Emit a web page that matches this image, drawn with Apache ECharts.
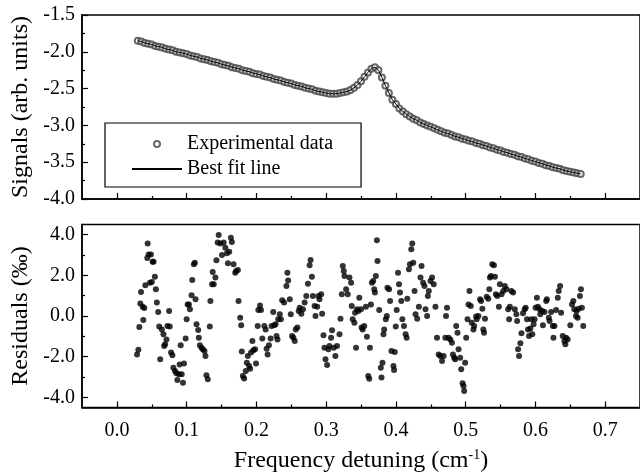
<!DOCTYPE html>
<html><head><meta charset="utf-8">
<script src="https://cdn.jsdelivr.net/npm/echarts@6/dist/echarts.min.js"></script>
<style>html,body{margin:0;padding:0;background:#fff}#c{width:640px;height:476px}</style>
</head><body><div id="c"></div>
<script>
// ---- Data ----
const sigX = [0.030,0.035,0.040,0.045,0.050,0.055,0.060,0.065,0.070,0.075,
0.080,0.085,0.090,0.095,0.100,0.105,0.110,0.115,0.120,0.125,
0.130,0.135,0.140,0.145,0.150,0.155,0.160,0.165,0.170,0.175,
0.180,0.185,0.190,0.195,0.200,0.205,0.210,0.215,0.220,0.225,
0.230,0.235,0.240,0.245,0.250,0.255,0.260,0.265,0.270,0.275,
0.280,0.285,0.290,0.295,0.300,0.305,0.310,0.315,0.320,0.325,
0.330,0.335,0.340,0.345,0.350,0.355,0.360,0.365,0.370,0.375,
0.380,0.385,0.390,0.395,0.400,0.405,0.410,0.415,0.420,0.425,
0.430,0.435,0.440,0.445,0.450,0.455,0.460,0.465,0.470,0.475,
0.480,0.485,0.490,0.495,0.500,0.505,0.510,0.515,0.520,0.525,
0.530,0.535,0.540,0.545,0.550,0.555,0.560,0.565,0.570,0.575,
0.580,0.585,0.590,0.595,0.600,0.605,0.610,0.615,0.620,0.625,
0.630,0.635,0.640,0.645,0.650,0.655,0.660,0.665];
const sigY = [-1.85,-1.86,-1.88,-1.89,-1.90,-1.92,-1.93,-1.94,-1.96,-1.97,
-1.98,-2.00,-2.01,-2.02,-2.03,-2.05,-2.06,-2.07,-2.09,-2.10,
-2.11,-2.13,-2.14,-2.15,-2.17,-2.18,-2.19,-2.21,-2.22,-2.23,
-2.25,-2.26,-2.27,-2.29,-2.30,-2.31,-2.33,-2.34,-2.35,-2.37,
-2.38,-2.39,-2.41,-2.42,-2.43,-2.45,-2.46,-2.47,-2.49,-2.50,
-2.51,-2.53,-2.54,-2.55,-2.56,-2.57,-2.57,-2.57,-2.56,-2.55,
-2.54,-2.52,-2.49,-2.45,-2.40,-2.34,-2.28,-2.23,-2.21,-2.25,
-2.35,-2.46,-2.56,-2.65,-2.71,-2.77,-2.81,-2.85,-2.88,-2.91,
-2.93,-2.96,-2.98,-3.00,-3.02,-3.04,-3.06,-3.08,-3.10,-3.11,
-3.13,-3.15,-3.16,-3.18,-3.19,-3.21,-3.22,-3.24,-3.25,-3.27,
-3.28,-3.30,-3.31,-3.33,-3.34,-3.36,-3.37,-3.39,-3.40,-3.42,
-3.43,-3.45,-3.46,-3.48,-3.49,-3.51,-3.52,-3.54,-3.55,-3.57,
-3.58,-3.59,-3.61,-3.62,-3.63,-3.64,-3.65,-3.66];

const resX = [0.0289,0.0308,0.0322,0.0336,0.0346,0.0370,0.0379,0.0393,0.0408,0.0436,
0.0441,0.0455,0.0474,0.0488,0.0502,0.0512,0.0526,0.0545,0.0559,0.0573,
0.0592,0.0607,0.0621,0.0645,0.0668,0.0678,0.0692,0.0711,0.0725,0.0749,
0.0758,0.0777,0.0796,0.0810,0.0834,0.0853,0.0867,0.0891,0.0900,0.0915,
0.0929,0.0948,0.0962,0.0986,0.1000,0.1014,0.1033,0.1047,0.1071,0.1081,
0.1104,0.1118,0.1128,0.1142,0.1166,0.1175,0.1190,0.1213,0.1232,0.1256,
0.1270,0.1284,0.1303,0.1332,0.1341,0.1365,0.1374,0.1389,0.1412,0.1427,
0.1445,0.1460,0.1483,0.1507,0.1531,0.1555,0.1578,0.1592,0.1611,0.1635,
0.1649,0.1673,0.1697,0.1711,0.1735,0.1744,0.1768,0.1782,0.1791,0.1806,
0.1825,0.1848,0.1863,0.1877,0.1896,0.1910,0.1924,0.1943,0.1957,0.1981,
0.1995,0.2019,0.2028,0.2052,0.2066,0.2085,0.2114,0.2133,0.2147,0.2161,
0.2180,0.2204,0.2218,0.2242,0.2256,0.2275,0.2289,0.2303,0.2313,0.2336,
0.2351,0.2370,0.2398,0.2431,0.2445,0.2455,0.2479,0.2493,0.2512,0.2531,
0.2550,0.2564,0.2588,0.2607,0.2621,0.2645,0.2668,0.2692,0.2716,0.2739,
0.2763,0.2777,0.2796,0.2810,0.2834,0.2848,0.2872,0.2891,0.2905,0.2929,
0.2943,0.2962,0.2976,0.2991,0.3014,0.3033,0.3047,0.3071,0.3085,0.3109,
0.3133,0.3156,
0.3192,0.3206,0.3225,0.3239,0.3253,0.3263,0.3287,0.3310,0.3334,0.3358,
0.3367,0.3381,0.3405,0.3415,0.3429,0.3443,0.3462,0.3476,0.3500,0.3509,
0.3524,0.3547,0.3571,0.3585,0.3604,0.3618,0.3628,0.3642,0.3656,0.3675,
0.3690,0.3699,0.3713,0.3728,0.3737,0.3761,0.3784,0.3794,0.3808,0.3822,
0.3832,0.3856,0.3870,0.3879,0.3903,0.3917,0.3936,0.3965,0.3974,0.3984,
0.3998,0.4012,0.4031,0.4045,0.4059,0.4078,0.4093,0.4116,0.4140,0.4154,
0.4164,0.4187,0.4202,0.4221,0.4235,0.4249,0.4268,0.4282,0.4306,0.4330,
0.4353,0.4368,0.4391,0.4410,0.4425,0.4448,0.4458,0.4472,0.4496,0.4519,
0.4543,0.4567,0.4590,0.4614,0.4638,0.4662,0.4685,0.4709,0.4719,0.4733,
0.4756,0.4780,0.4804,0.4818,0.4837,0.4851,0.4865,0.4884,0.4899,0.4922,
0.4937,0.4956,0.4970,0.4979,0.4993,0.5008,0.5027,0.5041,0.5055,0.5074,
0.5088,0.5112,0.5122,0.5150,0.5159,0.5183,0.5207,0.5221,0.5240,0.5254,
0.5264,0.5278,0.5302,0.5325,0.5340,0.5349,0.5363,0.5382,0.5406,0.5420,
0.5434,0.5453,0.5477,0.5491,0.5515,0.5539,0.5562,0.5586,0.5610,0.5624,
0.5634,0.5657,0.5681,0.5705,0.5728,0.5738,0.5752,0.5766,0.5785,0.5800,
0.5823,0.5847,0.5861,0.5880,0.5894,0.5909,0.5928,0.5942,0.5956,0.5975,
0.5989,0.6003,0.6022,0.6037,0.6060,0.6070,0.6098,0.6108,0.6131,0.6155,
0.6165,0.6193,0.6203,0.6226,0.6250,0.6259,0.6274,0.6297,0.6321,0.6335,
0.6354,0.6369,0.6392,0.6416,0.6430,0.6440,0.6463,0.6501,0.6525,0.6544,
0.6558,0.6582,0.6591,0.6606,0.6620,0.6639,0.6653,0.6667,0.6686];
const resY = [-1.89,-1.66,-0.54,0.61,1.18,0.46,-0.20,0.39,1.51,2.85,
3.56,3.03,1.64,3.03,1.67,2.67,2.67,1.93,1.31,0.66,
0.20,-0.52,-2.13,-0.66,-0.90,-1.48,-1.39,-1.15,-0.49,0.25,
-0.52,-1.80,-1.93,-2.54,-2.70,-2.82,-3.15,-2.87,-2.38,-1.44,
-2.87,-3.28,-2.33,-1.11,-0.16,0.57,0.56,0.33,1.02,1.77,
2.54,2.62,0.82,-0.41,-0.69,-1.07,-1.44,-1.56,-1.64,-1.72,
-1.97,-2.92,-3.11,-0.52,0.74,1.56,2.16,1.56,1.89,2.74,
3.61,3.98,3.57,3.00,3.61,3.36,3.08,2.59,3.16,3.85,
3.64,2.54,2.13,2.21,2.26,0.74,-0.08,-0.46,-1.75,-2.95,
-3.07,-2.70,-2.30,-1.97,-2.46,-2.59,-1.80,-1.23,-1.69,-1.64,
-2.33,-0.49,0.30,0.52,0.30,-1.11,-0.49,-0.66,-1.61,-1.89,
-1.44,-1.11,-0.49,0.20,-0.46,-0.41,-0.98,-1.15,-0.16,0.08,
-0.16,0.77,0.66,1.48,2.13,1.75,0.82,0.08,-0.98,-1.07,
-1.23,-0.66,-0.57,0.25,0.41,0.11,0.33,0.66,0.98,1.59,
2.49,2.75,1.93,0.98,0.49,0.00,0.46,0.98,0.82,1.07,
0.11,-0.95,-1.56,-2.13,-2.41,-1.64,-1.48,-1.07,-0.70,-1.56,
-1.97,-1.48,
-0.90,-0.13,1.07,2.46,2.21,1.97,1.31,1.07,1.89,1.64,
0.49,-0.16,-0.33,0.16,-1.56,0.33,0.25,0.90,0.33,-0.57,
-0.66,-0.49,0.46,-1.02,-2.95,-3.08,-1.56,0.57,1.64,1.72,
1.31,1.15,1.97,3.72,2.70,0.30,-2.54,-3.03,-2.30,-0.90,
-0.66,-0.16,0.00,1.39,1.31,0.74,-1.72,-2.46,-2.66,-1.77,
-0.52,0.30,2.13,1.56,1.15,0.74,-0.16,-0.49,-0.90,-1.07,
0.85,2.30,2.54,3.28,3.56,2.62,1.23,0.08,-0.13,0.46,
1.89,2.46,1.64,1.48,0.33,0.00,0.98,1.23,1.72,1.89,
1.56,0.46,-1.07,-1.89,-1.97,-2.21,-1.97,-1.07,0.00,0.41,
-1.07,-1.15,-1.31,-1.89,-2.05,-2.13,-0.49,-0.82,-1.64,-2.05,
-2.62,-3.31,-3.44,-3.69,-2.30,-1.07,-0.16,0.57,1.23,0.49,
-0.33,-0.66,-0.49,-0.03,-0.16,0.00,0.82,0.74,0.36,-0.66,
-0.82,-0.13,0.95,0.85,1.31,1.89,1.97,2.54,2.49,1.93,
1.07,0.98,0.46,1.56,1.07,1.23,1.48,1.31,0.33,-0.16,
0.46,1.23,1.15,0.33,0.08,-0.25,-1.64,-1.97,-1.34,-0.85,
0.13,0.33,0.41,-0.16,-0.66,-0.98,-0.62,-0.16,-0.90,-0.41,
-0.16,0.41,0.90,0.46,0.33,0.08,0.25,-0.46,0.20,0.74,
0.82,-0.08,-0.25,0.20,-0.49,-1.07,-0.49,0.30,0.90,1.23,
1.48,0.16,-0.98,-1.23,-1.39,-1.07,-1.15,-0.46,0.57,0.74,
0.33,0.00,0.25,-0.08,0.36,0.98,1.31,0.41,-0.49];

const xMajorTicks = [0.0,0.1,0.2,0.3,0.4,0.5,0.6,0.7];
const xMinorTicks = [0.05,0.15,0.25,0.35,0.45,0.55,0.65];
const resMajorTicks = [-4,-2,0,2,4];
const resMinorTicks = [-3,-1,1,3];

// ---- Chart ----
const FONT = '"Liberation Serif","Times New Roman",serif';
const BLACK = '#000';
const lineStyle = {color: BLACK, width: 1.5};
const labelStyle = {fontFamily: FONT, fontSize: 20, color: BLACK};
const nameStyle = {fontFamily: FONT, fontSize: 24, color: BLACK};

function majorX(grid, labels) {
  return {
    type: 'value', gridIndex: grid, position: 'bottom', min: -0.05, max: 0.75,
    axisLine: {show: true, onZero: false, lineStyle},
    axisTick: {show: true, inside: true, length: 6, customValues: xMajorTicks, lineStyle: {color: BLACK, width: 1.2}},
    axisLabel: labels ? Object.assign({show: true, margin: 13, customValues: xMajorTicks,
      formatter: v => v.toFixed(1)}, labelStyle) : {show: false},
    splitLine: {show: false}
  };
}
function minorX(grid) {
  return {
    type: 'value', gridIndex: grid, position: 'bottom', min: -0.05, max: 0.75,
    axisLine: {show: false, onZero: false},
    axisTick: {show: true, inside: true, length: 3, customValues: xMinorTicks, lineStyle: {color: BLACK, width: 1.2}},
    axisLabel: {show: false}, splitLine: {show: false}
  };
}

const xa2 = majorX(1, true);
xa2.name = 'Frequency detuning (cm{sup|-1})';
xa2.nameLocation = 'middle';
xa2.nameGap = 41;
xa2.nameTextStyle = Object.assign({}, nameStyle, {rich: {sup: {fontFamily: FONT, fontSize: 14, color: BLACK, verticalAlign: 'top', padding: [0, 0, 11, 0]}}});

const option = {
  animation: false,
  backgroundColor: '#fff',
  grid: [
    {left: 82, top: 15, right: -4, height: 184, show: true, borderColor: BLACK, borderWidth: 1.5, backgroundColor: 'transparent'},
    {left: 82, top: 224.5, right: -4, height: 183, show: true, borderColor: BLACK, borderWidth: 1.5, backgroundColor: 'transparent'}
  ],
  legend: {
    show: true, left: 105, top: 123, orient: 'vertical',
    padding: [11, 28, 8, 26], itemGap: 5, itemWidth: 50, itemHeight: 6,
    borderColor: BLACK, borderWidth: 1.2, backgroundColor: '#fff',
    textStyle: {fontFamily: FONT, fontSize: 20, color: BLACK},
    data: [
      {name: 'Experimental data', icon: 'emptyCircle'},
      {name: 'Best fit line', itemStyle: {opacity: 0}}
    ]
  },
  xAxis: [majorX(0, false), minorX(0), xa2, minorX(1)],
  yAxis: [
    {type: 'value', gridIndex: 0, position: 'left', min: -4, max: -1.5, interval: 0.5,
     axisLine: {show: true, onZero: false, lineStyle},
     axisTick: {show: true, inside: true, length: 6, lineStyle: {color: BLACK, width: 1.2}},
     minorTick: {show: true, splitNumber: 2, length: 3, lineStyle: {color: BLACK, width: 1.2}},
     axisLabel: Object.assign({margin: 7, formatter: v => v.toFixed(1)}, labelStyle),
     splitLine: {show: false},
     name: 'Signals (arb. units)', nameLocation: 'middle', nameGap: 48, nameTextStyle: nameStyle},
    {type: 'value', gridIndex: 1, position: 'left', min: -4.5, max: 4.5,
     axisLine: {show: true, onZero: false, lineStyle},
     axisTick: {show: true, inside: true, length: 6, customValues: resMajorTicks, lineStyle: {color: BLACK, width: 1.2}},
     axisLabel: Object.assign({margin: 7, customValues: resMajorTicks, formatter: v => v.toFixed(1)}, labelStyle),
     splitLine: {show: false},
     name: 'Residuals (\u2030)', nameLocation: 'middle', nameGap: 48, nameTextStyle: nameStyle},
    {type: 'value', gridIndex: 1, position: 'left', min: -4.5, max: 4.5,
     axisLine: {show: false, onZero: false},
     axisTick: {show: true, inside: true, length: 3, customValues: resMinorTicks, lineStyle: {color: BLACK, width: 1.2}},
     axisLabel: {show: false}, splitLine: {show: false}}
  ],
  series: [
    {name: 'Experimental data', type: 'scatter', xAxisIndex: 0, yAxisIndex: 0,
     symbol: 'emptyCircle', symbolSize: 6,
     itemStyle: {color: '#444', borderWidth: 1.2},
     data: sigX.map((x, i) => [x, sigY[i]]), z: 2},
    {name: 'Best fit line', type: 'line', xAxisIndex: 0, yAxisIndex: 0,
     symbol: 'none', itemStyle: {color: BLACK}, lineStyle: {color: BLACK, width: 1},
     data: sigX.map((x, i) => [x, sigY[i]]), z: 3},
    {name: 'Residuals', type: 'scatter', xAxisIndex: 2, yAxisIndex: 1,
     symbol: 'circle', symbolSize: 6, itemStyle: {color: BLACK},
     data: resX.map((x, i) => [x, resY[i]])}
  ]
};
const chart = echarts.init(document.getElementById('c'), null, {renderer: 'canvas'});
chart.setOption(option);
</script>
</body></html>
